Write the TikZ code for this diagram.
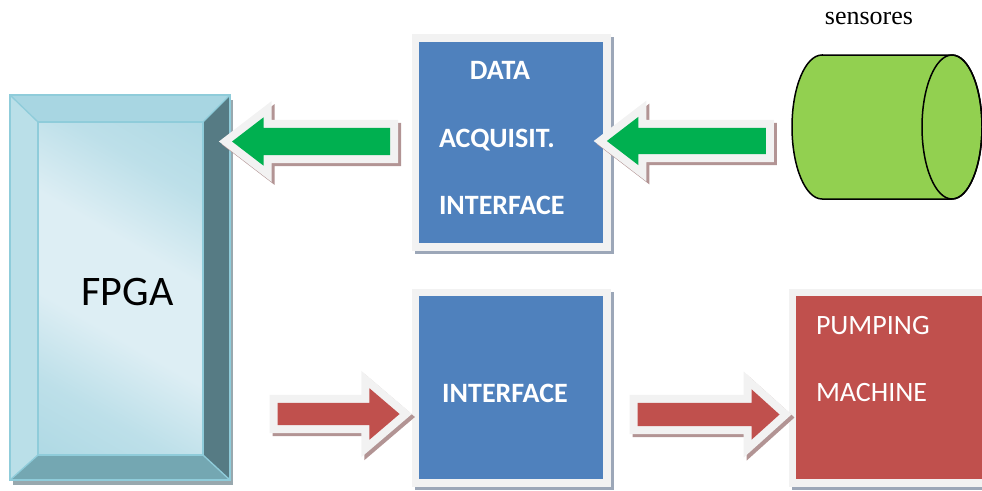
\documentclass[tikz,border=0pt]{standalone}
\usepackage{fontspec}
\setmainfont{Carlito}
\newfontfamily\sensorfont{Liberation Serif}
\usetikzlibrary{shapes.arrows}

\definecolor{boxblue}{HTML}{4F81BD}
\definecolor{boxred}{HTML}{C0504D}
\definecolor{rim}{HTML}{F2F2F2}
\definecolor{boxshade}{HTML}{9CA7B8}
\definecolor{arrowgreen}{HTML}{00B050}
\definecolor{arrowshade}{HTML}{B29494}
\definecolor{sensorgreen}{HTML}{92D050}
\definecolor{bevtop}{HTML}{A8D6E2}
\definecolor{bevleft}{HTML}{BADFE8}
\definecolor{bevright}{HTML}{567B84}
\definecolor{bevbottom}{HTML}{74A7B2}
\definecolor{bevedge}{HTML}{8FCCDA}
\definecolor{fpgashade}{HTML}{98A8AE}
\definecolor{glasslight}{HTML}{DDEEF4}
\definecolor{glassdark}{HTML}{9DD1DE}

\pgfdeclareverticalshading{glass}{100bp}{color(0bp)=(glassdark); color(28bp)=(glassdark!50!glasslight); color(42bp)=(glasslight); color(58bp)=(glasslight); color(72bp)=(glassdark!50!glasslight); color(100bp)=(glassdark)}

\begin{document}
\begin{tikzpicture}[x=0.3mm, y=-0.3mm,
  every node/.style={inner sep=0pt, outer sep=0pt},
  block/.style={rectangle, line join=miter,
    preaction={fill=boxshade, draw=boxshade, line width=4.5mm, transform canvas={shift={(3,3)}}},
    preaction={draw=rim, line width=4.5mm}},
  boldtext/.style={text=white, font=\fontsize{23.9}{28}\selectfont\bfseries},
  plaintext/.style={text=white, font=\fontsize{23.9}{28}\selectfont},
  fatarrow/.style={single arrow, single arrow head indent=0pt, inner xsep=0pt, line join=miter,
    preaction={fill=arrowshade, draw=arrowshade, line width=4.8mm, transform canvas={shift={(3,3)}}},
    preaction={draw=rim, line width=4.8mm}}]
\useasboundingbox (0,0) rectangle (982,490);

\node[minimum width=66mm, minimum height=115.5mm, fill=bevtop,
  preaction={fill=fpgashade, transform canvas={shift={(3,5)}}}] (fpgabox) at (120,287.5) {};
\node[minimum width=49.5mm, minimum height=99.9mm, shade, shading=glass, shading angle=-30] (fpga) at (120.5,288.5) {};
\fill[bevtop] (fpgabox.north west) -- (fpgabox.north east) -- (fpga.north east) -- (fpga.north west) -- cycle;
\fill[bevleft] (fpgabox.north west) -- (fpga.north west) -- (fpga.south west) -- (fpgabox.south west) -- cycle;
\fill[bevright] (fpgabox.north east) -- (fpga.north east) -- (fpga.south east) -- (fpgabox.south east) -- cycle;
\fill[bevbottom] (fpgabox.south west) -- (fpgabox.south east) -- (fpga.south east) -- (fpga.south west) -- cycle;
\draw[bevedge, line width=0.4mm] (fpgabox.north west) rectangle (fpgabox.south east);
\draw[bevedge, line width=0.4mm] (fpga.north west) rectangle (fpga.south east);
\draw[bevedge, line width=0.4mm] (fpgabox.north west) -- (fpga.north west) (fpgabox.north east) -- (fpga.north east)
  (fpgabox.south west) -- (fpga.south west) (fpgabox.south east) -- (fpga.south east);
\node[font=\fontsize{35.9}{40}\selectfont, anchor=base] (fpgatext) at (127.5,305.5) {FPGA};

\node[block, fill=boxblue, minimum width=55.2mm, minimum height=60.3mm] (daq) at (511,142.5) {};
\node[boldtext, anchor=base] (daqa) at (500,79) {DATA};
\node[boldtext, anchor=base west] (daqb) at (439,147) {ACQUISIT.};
\node[boldtext, anchor=base west] (daqc) at (439,214) {INTERFACE};

\node[block, fill=boxblue, minimum width=55.2mm, minimum height=54.9mm] (iface) at (511,387.5) {};
\node[boldtext, anchor=base] (ifacetext) at (505,402) {INTERFACE};

\node[block, fill=boxred, minimum width=58.8mm, minimum height=54.9mm] (pump) at (894,387.5) {};
\node[plaintext, anchor=base west] (pumpa) at (816,334) {PUMPING};
\node[plaintext, anchor=base west] (pumpb) at (816,401) {MACHINE};

\node[minimum width=57mm, minimum height=43.2mm] (sensor) at (887,127) {};
\filldraw[fill=sensorgreen, line width=0.45mm] ([xshift=9mm]sensor.north west) -- ([xshift=-9mm]sensor.north east)
  arc[start angle=90, end angle=-90, x radius=9mm, y radius=21.6mm] -- ([xshift=9mm]sensor.south west)
  arc[start angle=270, end angle=90, x radius=9mm, y radius=21.6mm] -- cycle;
\draw[line width=0.45mm] ([xshift=-9mm]sensor.east) ellipse[x radius=9mm, y radius=21.6mm];
\node[font=\sensorfont\fontsize{22.2}{26}\selectfont, anchor=base] (sensortext) at (869,24) {sensores};

\node[fatarrow, fill=arrowgreen, shape border rotate=180, minimum height=47.4mm, inner ysep=4.05mm,
  single arrow head extend=3.15mm, single arrow tip angle=75] (tofpga) at (320,141.5) {};
\node[fatarrow, fill=arrowgreen, shape border rotate=180, minimum height=47.7mm, inner ysep=3.9mm,
  single arrow head extend=3.3mm, single arrow tip angle=75] (todaq) at (695,141) {};
\node[fatarrow, fill=boxred, minimum height=36.6mm, inner ysep=3.3mm,
  single arrow head extend=4.35mm, single arrow tip angle=81] (toiface) at (332,414) {};
\node[fatarrow, fill=boxred, minimum height=42.6mm, inner ysep=3.45mm,
  single arrow head extend=4.05mm, single arrow tip angle=84] (topump) at (702,414.5) {};
\end{tikzpicture}
\end{document}
